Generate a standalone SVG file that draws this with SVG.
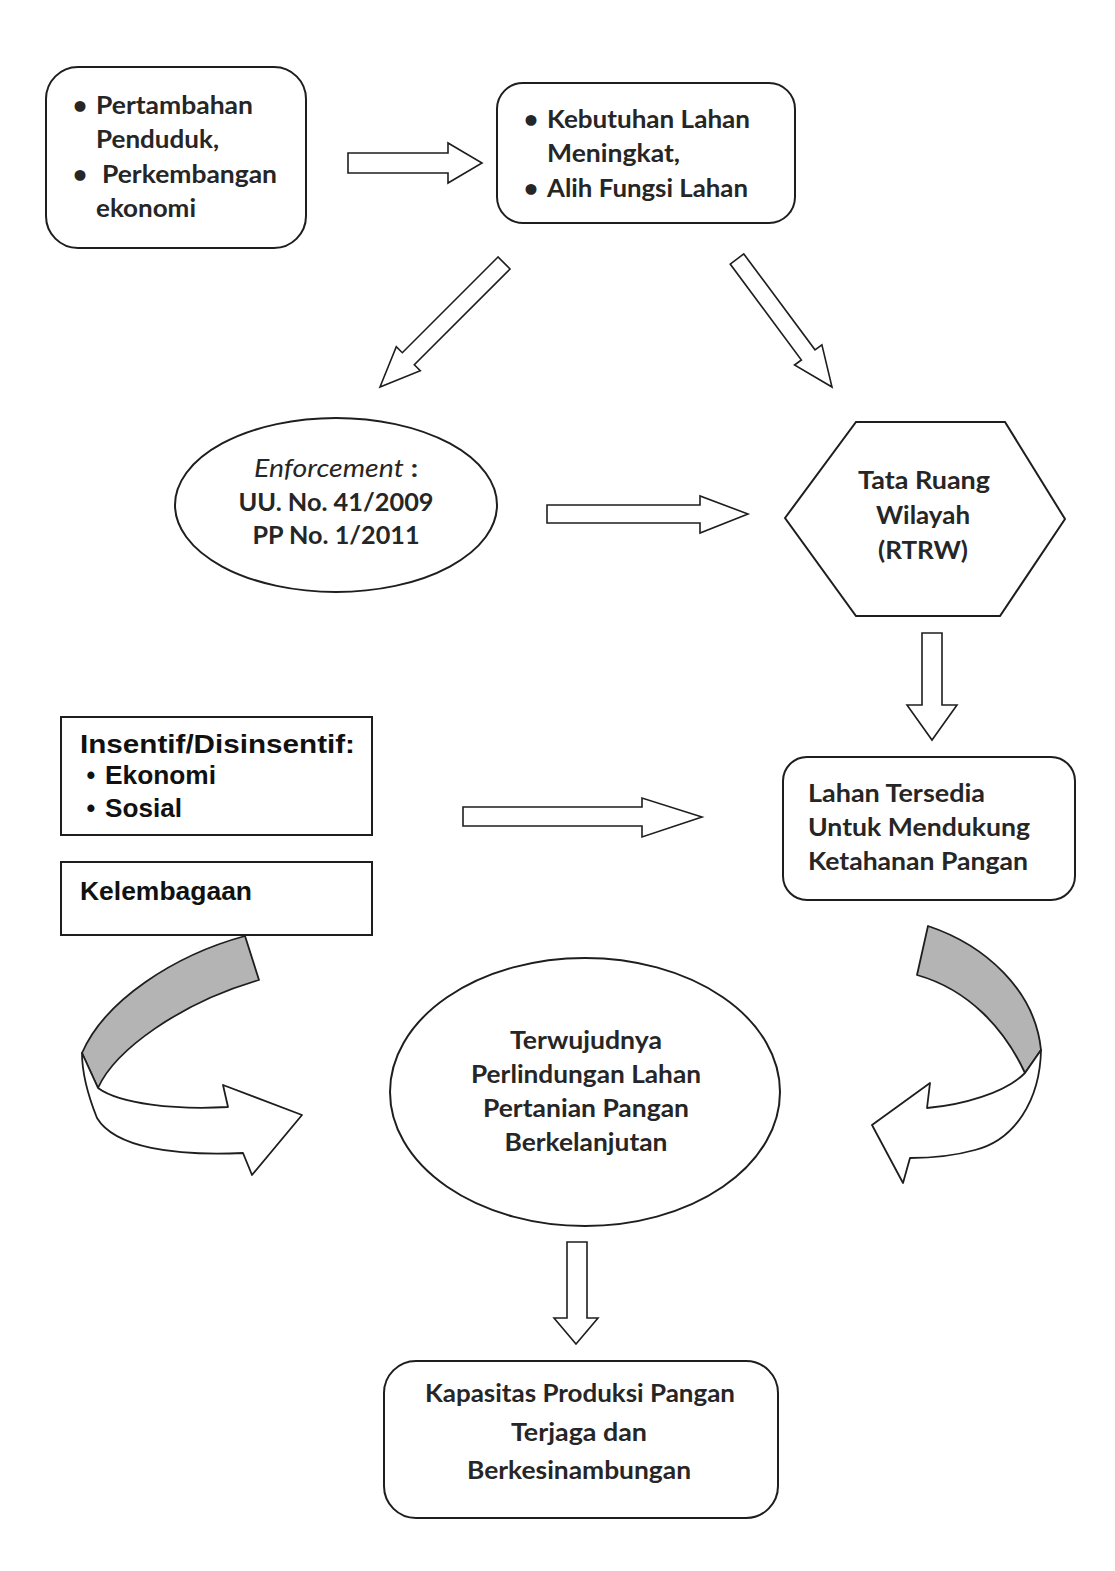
<svg xmlns="http://www.w3.org/2000/svg" width="1115" height="1571" viewBox="0 0 1115 1571">
<style>
.box{fill:#fff;stroke:#1e1e1e;stroke-width:2}
.arr{fill:#fff;stroke:#1e1e1e;stroke-width:1.6;stroke-linejoin:miter}
.rib{fill:#fff;stroke:#1e1e1e;stroke-width:1.8;stroke-linejoin:round}
.grey{fill:#b4b4b4;stroke:#1e1e1e;stroke-width:1.8;stroke-linejoin:round}
.t{font-family:Lato,"Open Sans","Liberation Sans",sans-serif;font-weight:bold;font-size:25px;fill:#262626}
.n{font-family:"Liberation Sans Narrow","Liberation Sans",Arial,sans-serif;font-weight:bold;font-size:25px;fill:#111}
.c{text-anchor:middle}
</style>
<rect width="1115" height="1571" fill="#fff"/>

<g id="connectors">
<polygon class="arr" points="348,153 448,153 448,143 482,163 448,183 448,173 348,173"/>
<polygon class="arr" points="498,257 402.3,352.7 396.3,346.7 380,387 420.3,370.7 414.3,364.7 510,269"/>
<polygon class="arr" points="743.8,253.9 815,349.8 821.9,344.8 832,387 794.5,365 801.4,360 730.2,264.1"/>
<polygon class="arr" points="547,505 700,505 700,496 748,514 700,533 700,523 547,523"/>
<polygon class="arr" points="922,633 942,633 942,705 957,705 932,740 907,705 922,705"/>
<polygon class="arr" points="463,807 642,807 642,798 702,817 642,837 642,826 463,826"/>
<polygon class="arr" points="567,1242 587,1242 587,1318 598,1318 576,1344 554,1318 567,1318"/>
<g id="loop-left">
<path class="grey" d="M245,936 C175,955 105,1000 82,1053 L98,1088 C115,1050 180,1003 259,980 Z"/>
<path class="rib" d="M82,1053 L98,1088 C120,1104 175,1110 228,1107 L223,1085 L302,1115 L252,1175 L243,1153 C175,1156 115,1148 97,1118 C89,1098 82,1075 82,1053 Z"/>
</g>
<g id="loop-right">
<path class="grey" d="M928,926 C985,945 1035,990 1041,1050 L1025,1073 C1005,1030 970,990 917,975 Z"/>
<path class="rib" d="M1041,1050 C1040,1100 1015,1140 975,1150 C950,1157 930,1158 910,1158 L903,1183 L872,1125 L930,1083 L927,1108 C962,1105 1005,1093 1025,1073 Z"/>
</g>
</g>

<g id="node-penduduk">
<rect class="box" x="46" y="67" width="260" height="181" rx="32"/>
<text class="t" x="80" y="114" text-anchor="middle" fill="#555">•</text>
<text class="t" x="96" y="114" textLength="157" lengthAdjust="spacingAndGlyphs">Pertambahan</text>
<text class="t" x="96" y="148" textLength="123" lengthAdjust="spacingAndGlyphs">Penduduk,</text>
<text class="t" x="80" y="183" text-anchor="middle">•</text>
<text class="t" x="102" y="183" textLength="175" lengthAdjust="spacingAndGlyphs">Perkembangan</text>
<text class="t" x="96" y="217" textLength="100" lengthAdjust="spacingAndGlyphs">ekonomi</text>
</g>

<g id="node-kebutuhan">
<rect class="box" x="497" y="83" width="298" height="140" rx="26"/>
<text class="t" x="531" y="128" text-anchor="middle">•</text>
<text class="t" x="547" y="128" textLength="203" lengthAdjust="spacingAndGlyphs">Kebutuhan Lahan</text>
<text class="t" x="547" y="162" textLength="133" lengthAdjust="spacingAndGlyphs">Meningkat,</text>
<text class="t" x="531" y="197" text-anchor="middle">•</text>
<text class="t" x="547" y="197" textLength="201" lengthAdjust="spacingAndGlyphs">Alih Fungsi Lahan</text>
</g>

<g id="node-enforcement">
<ellipse class="box" cx="336" cy="505" rx="161" ry="87"/>
<text class="t c" x="336" y="477" textLength="164" lengthAdjust="spacingAndGlyphs"><tspan font-style="italic" font-weight="normal">Enforcement</tspan> :</text>
<text class="t c" x="336" y="511" textLength="195" lengthAdjust="spacingAndGlyphs">UU. No. 41/2009</text>
<text class="t c" x="336" y="544" textLength="167" lengthAdjust="spacingAndGlyphs">PP No. 1/2011</text>
</g>

<g id="node-rtrw">
<polygon class="box" points="785,518 856,422 1005,422 1065,519 1000,616 856,616"/>
<text class="t c" x="924" y="489" font-size="23" textLength="132" lengthAdjust="spacingAndGlyphs">Tata Ruang</text>
<text class="t c" x="923" y="524" font-size="23" textLength="94" lengthAdjust="spacingAndGlyphs">Wilayah</text>
<text class="t c" x="923" y="559" font-size="23" textLength="90" lengthAdjust="spacingAndGlyphs">(RTRW)</text>
</g>

<g id="node-insentif">
<rect class="box" x="61" y="717" width="311" height="118"/>
<text class="n" x="80" y="753" textLength="275" lengthAdjust="spacingAndGlyphs">Insentif/Disinsentif:</text>
<text class="n" x="91" y="784" text-anchor="middle">•</text>
<text class="n" x="105" y="784" textLength="111" lengthAdjust="spacingAndGlyphs">Ekonomi</text>
<text class="n" x="91" y="817" text-anchor="middle">•</text>
<text class="n" x="105" y="817" textLength="77" lengthAdjust="spacingAndGlyphs">Sosial</text>
</g>

<g id="node-kelembagaan">
<rect class="box" x="61" y="862" width="311" height="73"/>
<text class="n" x="80" y="900" textLength="172" lengthAdjust="spacingAndGlyphs">Kelembagaan</text>
</g>

<g id="node-lahan">
<rect class="box" x="783" y="757" width="292" height="143" rx="24"/>
<text class="t" x="808" y="802" textLength="177" lengthAdjust="spacingAndGlyphs">Lahan Tersedia</text>
<text class="t" x="808" y="836" textLength="222" lengthAdjust="spacingAndGlyphs">Untuk Mendukung</text>
<text class="t" x="808" y="870" textLength="220" lengthAdjust="spacingAndGlyphs">Ketahanan Pangan</text>
</g>

<g id="node-perlindungan">
<ellipse class="box" cx="585" cy="1092" rx="195" ry="134"/>
<text class="t c" x="586" y="1049" textLength="152" lengthAdjust="spacingAndGlyphs">Terwujudnya</text>
<text class="t c" x="586" y="1083" textLength="230" lengthAdjust="spacingAndGlyphs">Perlindungan Lahan</text>
<text class="t c" x="586" y="1117" textLength="206" lengthAdjust="spacingAndGlyphs">Pertanian Pangan</text>
<text class="t c" x="586" y="1151" textLength="163" lengthAdjust="spacingAndGlyphs">Berkelanjutan</text>
</g>

<g id="node-kapasitas">
<rect class="box" x="384" y="1361" width="394" height="157" rx="32"/>
<text class="t c" x="580" y="1402" textLength="310" lengthAdjust="spacingAndGlyphs">Kapasitas Produksi Pangan</text>
<text class="t c" x="579" y="1441" textLength="136" lengthAdjust="spacingAndGlyphs">Terjaga dan</text>
<text class="t c" x="579" y="1479" textLength="224" lengthAdjust="spacingAndGlyphs">Berkesinambungan</text>
</g>
</svg>
